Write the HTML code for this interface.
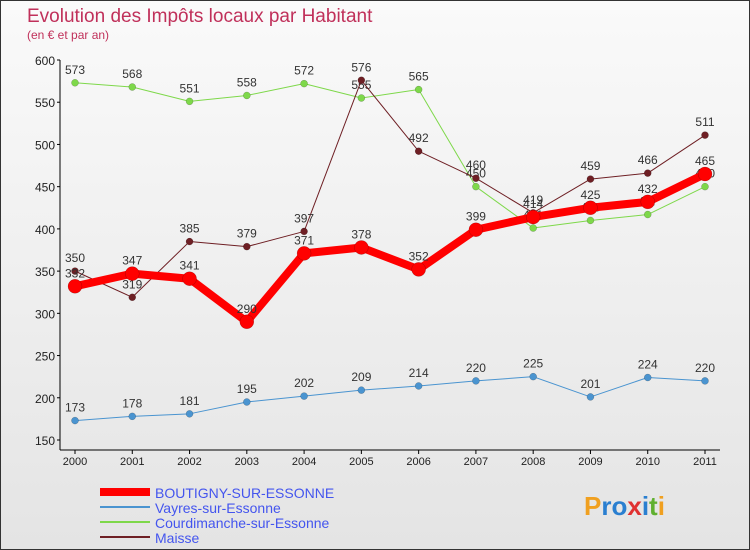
<!DOCTYPE html>
<html><head><meta charset="utf-8"><style>
body{margin:0;width:750px;height:550px;overflow:hidden;font-family:"Liberation Sans",sans-serif}
svg{display:block}
</style></head><body>
<svg width="750" height="550" xmlns="http://www.w3.org/2000/svg">
<defs><linearGradient id="bg" x1="0" y1="0" x2="0" y2="1"><stop offset="0" stop-color="#fafafa"/><stop offset="1" stop-color="#e4e4e4"/></linearGradient></defs>
<rect x="0.5" y="0.5" width="749" height="549" fill="url(#bg)" stroke="#333"/>
<text x="27" y="22" font-size="19" fill="#c0305a">Evolution des Impôts locaux par Habitant</text>
<text x="27" y="39" font-size="12" fill="#c0305a">(en € et par an)</text>
<g id="axes"></g>
<g id="series"></g>
<g id="legend"></g>
<text x="584" y="515" font-size="26" font-weight="bold"><tspan fill="#f0a020">P</tspan><tspan fill="#2a7fd0">ro</tspan><tspan fill="#e03030">x</tspan><tspan fill="#2a7fd0">i</tspan><tspan fill="#60b030">t</tspan><tspan fill="#f0a020">i</tspan></text>
</svg>
<script>
const years=[2000,2001,2002,2003,2004,2005,2006,2007,2008,2009,2010,2011];
const yTicks=[150,200,250,300,350,400,450,500,550,600];
const boutigny=[332,347,341,290,371,378,352,399,414,425,432,465];
const vayres=[173,178,181,195,202,209,214,220,225,201,224,220];
const courdimanche=[573,568,551,558,572,555,565,450,401,410,417,450];
const maisse=[350,319,385,379,397,576,492,460,419,459,466,511];
const NS="http://www.w3.org/2000/svg";
const X=i=>75+i*(630/11);
const Y=v=>60+(600-v)*(380/450);
function mk(tag,attrs,parent,txt){const e=document.createElementNS(NS,tag);for(const k in attrs)e.setAttribute(k,attrs[k]);if(txt!==undefined)e.textContent=txt;parent.appendChild(e);return e;}
const ax=document.getElementById('axes');
let a=mk('line',{x1:60,y1:Y(600),x2:60,y2:450,stroke:'#000'},ax);


a=mk('line',{x1:60,y1:450,x2:720,y2:450,stroke:'#000'},ax);


yTicks.forEach(v=>{
 const t=mk('text',{x:55,y:Y(v)+5,'font-size':12,'text-anchor':'end',fill:'#222'},ax,String(v));
 
 
 mk('line',{x1:57,y1:Y(v),x2:60,y2:Y(v),stroke:'#000'},ax);
});
years.forEach((y,i)=>{
 const t=mk('text',{x:X(i),y:465,'font-size':11,'text-anchor':'middle',fill:'#222'},ax,String(y));
 
 
 mk('line',{x1:X(i),y1:450,x2:X(i),y2:454,stroke:'#000'},ax);
});
const sg=document.getElementById('series');
const series=[
 {d:courdimanche,c:'#7ed84a',w:1,r:3.5,n:'courdimanche'},
 {d:maisse,c:'#6e1f24',w:1,r:3.5,n:'maisse'},
 {d:vayres,c:'#4a94d0',w:1,r:3.5,n:'vayres'},
 {d:boutigny,c:'#ff0000',w:8,r:7,n:'boutigny'}];
series.forEach(s=>{
 const g=mk('g',{},sg);
 
 
 const p=mk('polyline',{points:s.d.map((v,i)=>X(i)+','+Y(v)).join(' '),fill:'none',stroke:s.c,'stroke-width':s.w,'stroke-linejoin':'round'},g);
 
 
 s.d.forEach((v,i)=>{
  const c=mk('circle',{cx:X(i),cy:Y(v),r:s.r,fill:s.c,stroke:'rgba(0,0,0,0.3)','stroke-width':0.5},g);
  
  
  const t=mk('text',{x:X(i),y:Y(v)-9,'font-size':12,'text-anchor':'middle',fill:'#333'},g,String(v));
  
  
 });
});
const lg=document.getElementById('legend');
const leg=[['BOUTIGNY-SUR-ESSONNE','#ff0000',8],['Vayres-sur-Essonne','#4a94d0',2],['Courdimanche-sur-Essonne','#7ed84a',2],['Maisse','#6e1f24',2]];
leg.forEach((l,i)=>{
 const y=492+i*15;
 const g=mk('g',{},lg);
 
 
 mk('line',{x1:100,y1:y,x2:150,y2:y,stroke:l[1],'stroke-width':l[2]},g);
 mk('text',{x:155,y:y+6,'font-size':14,fill:'#4455ee'},g,l[0]);
});
</script>
</body></html>
